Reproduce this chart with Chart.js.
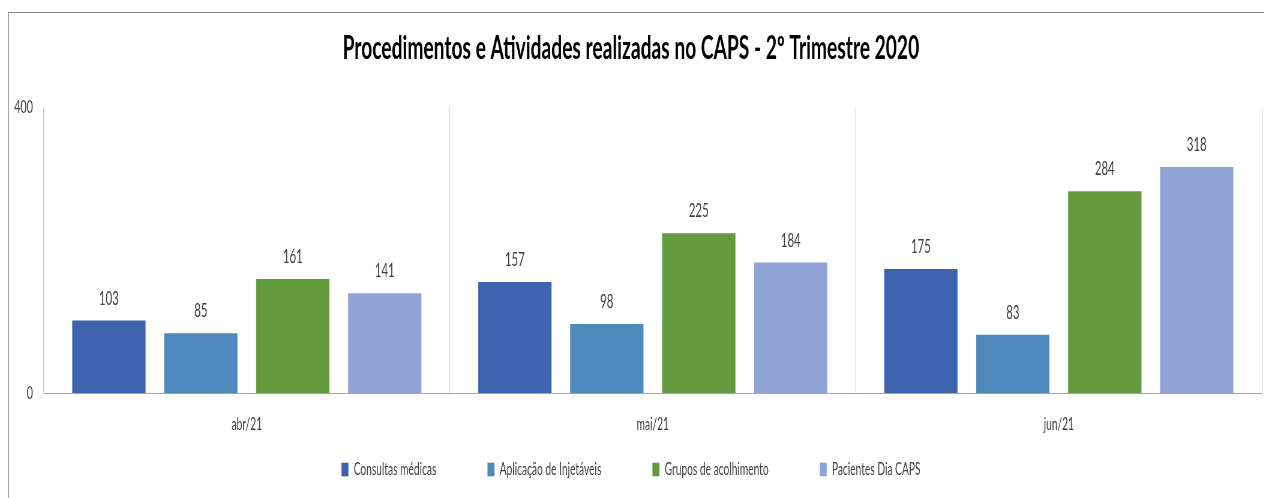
<!DOCTYPE html>
<html>
<head>
<meta charset="utf-8">
<script src="https://cdn.jsdelivr.net/npm/chart.js@4.4.0/dist/chart.umd.min.js"></script>
<style>
  html, body { margin: 0; padding: 0; background: #fff; }
  body { width: 1264px; height: 498px; position: relative; overflow: hidden; }
  #frame { position: absolute; left: 8px; top: 12px; width: 1270px; height: 500px;
           border-top: 1px solid #8c8c8c; border-left: 1px solid #a6a6a6; box-sizing: border-box; }
  #wrap { position: absolute; left: 0; top: 0; width: 2107px; height: 498px;
          transform: scaleX(0.6); transform-origin: 0 0; }
</style>
</head>
<body>
<div id="frame"></div>
<div id="wrap"><canvas id="c" width="2107" height="498"></canvas></div>
<script>
const categories = ['abr/21', 'mai/21', 'jun/21'];
const seriesNames = ['Consultas médicas', 'Aplicação de Injetáveis', 'Grupos de acolhimento', 'Pacientes Dia CAPS'];
const consultas = [103, 157, 175];
const injetaveis = [85, 98, 83];
const grupos = [161, 225, 284];
const pacientes = [141, 184, 318];
const yTicks = [0, 400];
const colors = ['#3D64AC', '#4F8ABE', '#629A3D', '#8FA4D5'];

const FONT = "Lato, 'Open Sans', 'Liberation Sans', sans-serif";

const valueLabels = {
  id: 'valueLabels',
  afterDatasetsDraw(chart) {
    const ctx = chart.ctx;
    ctx.save();
    ctx.font = '19px ' + FONT;
    ctx.fillStyle = '#404040';
    ctx.textAlign = 'center';
    ctx.textBaseline = 'middle';
    chart.data.datasets.forEach((ds, i) => {
      const meta = chart.getDatasetMeta(i);
      meta.data.forEach((el, j) => {
        ctx.fillText(String(ds.data[j]), el.x, el.y - 21);
      });
    });
    ctx.restore();
  }
};

const allSeries = [consultas, injetaveis, grupos, pacientes];

new Chart(document.getElementById('c'), {
  type: 'bar',
  data: {
    labels: categories,
    datasets: allSeries.map((d, i) => ({
      label: seriesNames[i],
      data: d,
      backgroundColor: colors[i],
      borderColor: 'rgba(255,255,255,0.35)',
      borderWidth: 1,
      categoryPercentage: 0.906,
      barPercentage: 0.81
    }))
  },
  options: {
    responsive: false,
    animation: false,
    devicePixelRatio: 1,
    layout: { padding: { left: 0, right: 4, top: 0, bottom: 10 } },
    plugins: {
      title: {
        display: true,
        text: 'Procedimentos e Atividades realizadas no CAPS - 2º Trimestre 2020',
        font: { family: FONT, size: 32, weight: 'bold' },
        color: '#000',
        padding: { top: 29, bottom: 40 }
      },
      legend: {
        position: 'bottom',
        labels: {
          font: { family: FONT, size: 17 },
          color: '#404040',
          boxWidth: 12,
          boxHeight: 14,
          padding: 24,
          generateLabels(chart) {
            const items = Chart.defaults.plugins.legend.labels.generateLabels(chart);
            items.forEach((it, i) => { if (i < items.length - 1) it.text += ' '.repeat(14); });
            return items;
          }
        }
      },
      tooltip: { enabled: false }
    },
    scales: {
      x: {
        offset: true,
        grid: { display: true, offset: true, color: '#c8c8c8', drawTicks: false },
        border: { display: true, color: '#a6a6a6' },
        ticks: { font: { family: FONT, size: 17 }, color: '#404040', padding: 21 },
        afterFit(s) { s.height = 44; }
      },
      y: {
        min: 0, max: 400,
        afterBuildTicks(s) { s.ticks = yTicks.map(v => ({ value: v })); },
        grid: { display: false, drawTicks: false },
        border: { display: false },
        ticks: { font: { family: FONT, size: 18 }, color: '#404040', padding: 18 },
        afterFit(s) { s.width = 73; }
      }
    }
  },
  plugins: [valueLabels]
});
</script>
</body>
</html>
